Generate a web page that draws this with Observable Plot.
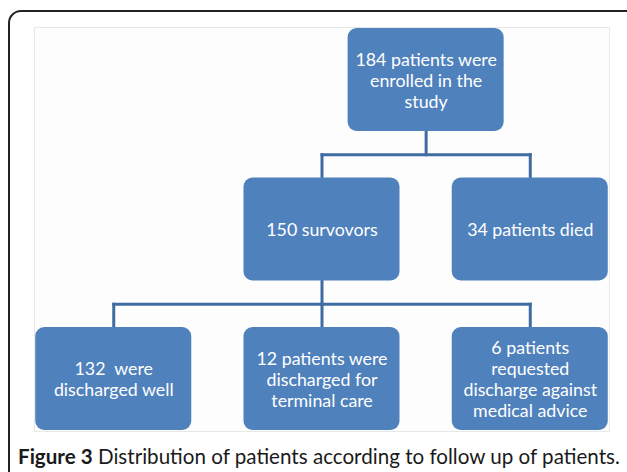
<!DOCTYPE html>
<html>
<head>
<meta charset="utf-8">
<script src="https://cdn.jsdelivr.net/npm/d3@7"></script>
<script src="https://cdn.jsdelivr.net/npm/@observablehq/plot@0.6"></script>
<style>
  html, body { margin: 0; padding: 0; background: #fff; overflow: hidden; }
  #wrap { position: relative; width: 627px; height: 472px; }
  #outer { position: absolute; left: 8px; top: 10px; width: 640px; height: 490px;
           border: 2px solid #222; border-radius: 13px; box-sizing: border-box; pointer-events: none; }
  #chart { position: absolute; left: 0; top: 0; }
  #caption { position: absolute; left: 18px; top: 444px; font-family: Lato, "Open Sans", sans-serif;
             font-size: 20.6px; line-height: 24px; color: #1a1a1a; white-space: nowrap; }
  #caption b { font-weight: 700; }
</style>
</head>
<body>
<div id="wrap">
  <div id="chart"></div>
  <div id="caption"></div>
  <div id="outer"></div>
</div>
<script>
// ---- data ----
const nodeLabels = [
  "184 patients were\nenrolled in the\nstudy",
  "150 survovors",
  "34 patients died",
  "132  were\ndischarged well",
  "12 patients were\ndischarged for\nterminal care",
  "6 patients\nrequested\ndischarge against\nmedical advice"
];
const nodeValues = [184, 150, 34, 132, 12, 6];
const nodeParents = [null, 0, 0, 1, 1, 1];
const captionBold = "Figure 3";
const captionText = " Distribution of patients according to follow up of patients.";

// ---- layout from tree structure ----
const nodes = nodeLabels.map((label, i) => ({id: i, label, value: nodeValues[i], parent: nodeParents[i]}));
nodes.forEach(n => { n.level = n.parent == null ? 0 : nodes[n.parent].level + 1; });
nodes.forEach(n => { n.children = nodes.filter(m => m.parent === n.id); });
const maxLevel = d3.max(nodes, d => d.level);
for (let L = maxLevel; L >= 0; L--) {
  let prev = -1;
  nodes.filter(n => n.level === L).forEach(n => {
    n.col = n.children.length ? d3.mean(n.children, c => c.col) : prev + 1;
    prev = n.col;
  });
}
const bw = 0.3746, bh = 0.3445;
const links = [];
nodes.filter(n => n.children.length).forEach(n => {
  const mid = n.level + 0.5;
  links.push({x1: n.col, y1: n.level + bh, x2: n.col, y2: mid});
  links.push({x1: d3.min(n.children, c => c.col), y1: mid, x2: d3.max(n.children, c => c.col), y2: mid});
  n.children.forEach(c => links.push({x1: c.col, y1: mid, x2: c.col, y2: c.level - bh}));
});

const font = "Lato, 'Open Sans', sans-serif";
const chart = Plot.plot({
  width: 627,
  height: 435,
  marginTop: 27,
  marginLeft: 34,
  marginRight: 18,
  marginBottom: 4,
  x: {domain: [1 - 1.3805, 1 + 1.3805], axis: null},
  y: {domain: [1 - 1.35117, 1 + 1.35117], reverse: true, axis: null},
  marks: [
    Plot.frame({fill: "#fdfdfd", stroke: "#e8e8e8"}),
    Plot.link(links, {x1: "x1", y1: "y1", x2: "x2", y2: "y2", stroke: "#3f6da3", strokeWidth: 3, strokeLinecap: "square"}),
    Plot.rect(nodes, {x1: d => d.col - bw, x2: d => d.col + bw, y1: d => d.level - bh, y2: d => d.level + bh,
                      fill: "#4f81bd", rx: 9}),
    Plot.text(nodes, {x: "col", y: "level", text: "label", fill: "white", fontSize: 17.8,
                      lineHeight: 1.18, fontFamily: font, style: "white-space: pre"})
  ]
});
document.getElementById("chart").appendChild(chart);
const cap = document.getElementById("caption");
const b = document.createElement("b");
b.textContent = captionBold;
cap.appendChild(b);
cap.appendChild(document.createTextNode(captionText));
</script>
</body>
</html>
